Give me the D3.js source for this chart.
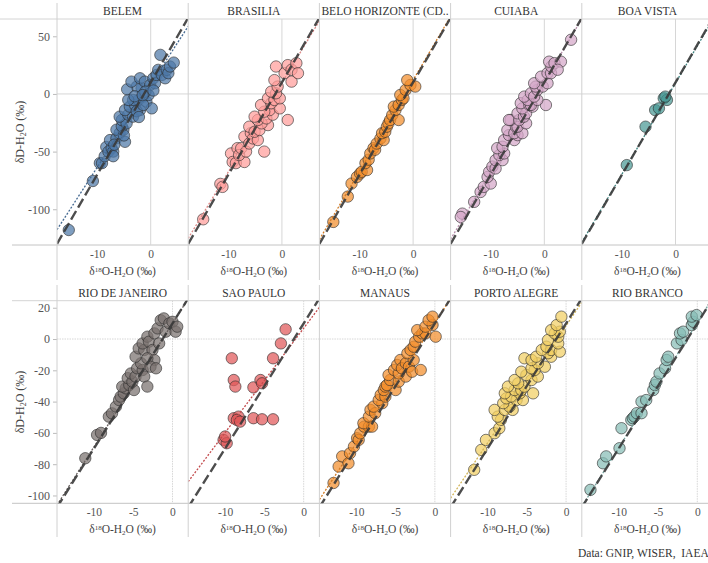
<!DOCTYPE html>
<html>
<head>
<meta charset="utf-8">
<script src="https://cdn.jsdelivr.net/npm/d3@7/dist/d3.min.js"></script>
<style>
  body { margin: 0; background: #fff; }
  svg { display: block; font-family: "Liberation Serif", "Times New Roman", serif; }
</style>
</head>
<body>
<div id="chart"></div>
<script>
// station names per row
const stationsTop = ["BELEM", "BRASILIA", "BELO HORIZONTE (CD..", "CUIABA", "BOA VISTA"];
const stationsBottom = ["RIO DE JANEIRO", "SAO PAULO", "MANAUS", "PORTO ALEGRE", "RIO BRANCO"];

// [d18O, dD]
const belem = [[-15.3,-118],[-10.8,-75.5],[-9.5,-60],[-9.1,-60],[-8.6,-54],[-8.3,-46],[-7.9,-50],[-7.3,-47],[-7,-50],[-7,-54],[-7.6,-40],[-6.4,-38.5],[-5.8,-34],[-4.8,-41.5],[-5.1,-31],[-6.4,-31],[-5.4,-28],[-5.4,-22.6],[-4.5,-25.5],[-5.8,-19.7],[-4.2,-18],[-3.3,-19.7],[-4.8,-14],[-3.9,-11],[-2.9,-9.6],[-2,-14],[-2.6,-15],[-2.3,-5.2],[-3.3,-5.2],[-4.2,-5.2],[-1.4,-2.3],[-0.8,-6.7],[0.2,-12.5],[-1.4,-9.6],[-0.4,-0.9],[-1.7,5],[-2.6,6.4],[-4.4,4],[-3.6,10.7],[-2,13.6],[-1.1,10.7],[-0.1,7.8],[0.5,13.6],[0.8,9.3],[1.1,16.5],[1.4,20.9],[2.1,16.5],[2.7,13.6],[3,20.9],[3.3,18],[3.6,23.8],[4.3,27.2],[1.8,33.9],[-3,-2],[-1,2],[-5,-36],[-6.8,-44],[-2.2,-20],[0.5,3],[-1.5,-1]];
const brasilia = [[-14.7,-108.7],[-11.5,-78],[-11.1,-80.6],[-9.5,-51.6],[-9.2,-59],[-8.6,-60],[-7,-59],[-8.3,-47],[-8,-53],[-7.6,-47],[-6.7,-50],[-7,-37],[-6.1,-43],[-5.8,-34],[-5.4,-38.6],[-4.5,-40],[-6.1,-28.4],[-5.1,-32.8],[-4.2,-31.3],[-3.3,-50],[-2.6,-27],[-3.8,-25.5],[-4.5,-22.6],[-5.1,-19.7],[-2.9,-21.2],[-1.7,-18],[-2.3,-14],[-3.3,-15.4],[-0.4,-12.5],[-3.9,-9.6],[-2,-8],[-2.6,-3.8],[-1.4,-5.2],[-0.4,-3.8],[-1.1,0.6],[-2,2],[-0.8,6.4],[1.1,-22.6],[-1.4,12],[-1.1,23.8],[0.5,18],[1.1,25],[1.8,21],[2.7,26.7],[1.8,10.7],[3,18]];
const beloHorizonte = [[-14.9,-111],[-12.2,-89],[-11.5,-77.7],[-10.5,-72],[-9.9,-69],[-9.6,-67.5],[-8.6,-66],[-8.9,-60],[-8.3,-57],[-8,-51.6],[-7.4,-47],[-7.1,-48.4],[-6.8,-43],[-6.1,-38.6],[-5.5,-40],[-5.8,-34],[-5.2,-32.8],[-4.9,-28.4],[-4.6,-25.5],[-4.3,-22.6],[-3.9,-18.3],[-2.7,-22.6],[-3.3,-14],[-3.6,-11],[-2.7,-9.6],[-2.1,-5.2],[-1.8,-3.8],[-2.4,-0.9],[-1.4,3.5],[-0.5,7.8],[0.4,6.4],[-1.1,12]];
const cuiaba = [[-15.3,-103.8],[-15.6,-106.7],[-13.1,-93.6],[-11.9,-85],[-11.3,-80.6],[-10,-77.7],[-10.6,-72],[-10.3,-67.5],[-9.7,-63],[-9.1,-64.6],[-9.1,-57.4],[-7.8,-57.4],[-8.4,-53],[-7.5,-51.6],[-8.8,-47],[-7.8,-45.8],[-7.5,-40],[-5.6,-40],[-6.6,-35.7],[-5,-35.7],[-6.9,-31.3],[-5.6,-34],[-4.1,-34],[-5.3,-28.4],[-5,-28.4],[-3.4,-25.5],[-6.3,-22.6],[-6.6,-22.6],[-4.7,-22.6],[-5,-16.8],[-3.8,-19.7],[-3.4,-16.8],[-4.1,-12.5],[-2.2,-11],[-4.4,-8],[-2.8,-9.6],[-2.5,-9.6],[0.3,-9.6],[-3.1,-5.2],[-1.3,-5.2],[-3.75,-2.3],[-2.5,0.6],[-1.9,-2.3],[-1.3,3.5],[-1.6,6.4],[-0.3,6.4],[0.6,9.3],[-1.9,9.3],[-0.6,15],[0.6,18],[1.25,18],[1.3,23.8],[0.9,28],[1.9,26.7],[3.1,28],[2.5,21],[5,47]];
const boaVista = [[-9.1,-61.7],[-5.6,-28.4],[-3.8,-14],[-3.1,-12.5],[-2.2,-3.8],[-1.6,-5.2],[-1.9,-2.3]];
const rioDeJaneiro = [[-11.1,-76.2],[-9.6,-61.3],[-9.1,-60],[-8.1,-49.6],[-7.7,-47.5],[-7.2,-43.2],[-6.8,-39],[-6.6,-36.8],[-6.2,-34.7],[-5.95,-31.5],[-6.4,-30.4],[-5.5,-29.4],[-4.9,-32.6],[-5.7,-25],[-5.1,-27.2],[-5.3,-22],[-4.7,-24],[-4.5,-18.7],[-3.8,-19.8],[-3.6,-24],[-3.2,-30.4],[-4,-15.5],[-4.7,-11.3],[-4.3,-6],[-3.6,-7],[-3.8,-2.8],[-3.2,1.5],[-3,-1.7],[-2.55,-7],[-2.3,-13.4],[-3.2,-12.3],[-2.8,-17.7],[-2.1,-18.7],[-2.3,3.6],[-1.9,6.8],[-1.7,-2.8],[-1.5,12],[-1.1,13.2],[-0.85,4.7],[-0.4,10],[0,11],[0.4,4.7],[0.6,7.9]];
const saoPaulo = [[-10.2,-64.5],[-9.8,-66.6],[-10,-62.3],[-9.15,-12.3],[-8.9,-26.2],[-8.7,-30.4],[-8.9,-50.6],[-8.3,-49.6],[-8.5,-51.7],[-8.1,-52.8],[-6.4,-30.9],[-5.5,-26.2],[-5.3,-28.3],[-6.4,-50.6],[-5.3,-51.3],[-3.9,-51.3],[-3.9,-12.3],[-2.9,-2.8],[-2.3,6.2]];
const manaus = [[-12.9,-92],[-12.25,-81.5],[-11.8,-75],[-11,-79.4],[-10.8,-73],[-10.3,-68.7],[-9.9,-63.4],[-9.7,-64.5],[-9.5,-60.2],[-9,-56],[-8.4,-56],[-8,-56],[-9.1,-53.8],[-8.4,-49.6],[-8.2,-45.3],[-7.6,-47.4],[-7.8,-43.2],[-6.7,-41],[-7.15,-39],[-6.9,-35.7],[-6.3,-36.8],[-6.5,-32.6],[-5,-32.6],[-6.3,-30.4],[-6.1,-29.4],[-5.7,-26.2],[-4.6,-27.2],[-5.9,-23],[-3.7,-24],[-5.2,-19.8],[-4.6,-22],[-4.8,-16.6],[-4.4,-13.4],[-4.2,-18.7],[-3.7,-15.5],[-3.3,-17.7],[-2.9,-20.9],[-1.8,-19.8],[-2.7,-13.4],[-3.5,-9.1],[-3.1,-7],[-2.7,-4.9],[-2.5,-1.7],[-2,1.5],[-1.6,3.6],[-1.2,3.6],[-2.25,5.7],[-1.2,7.9],[-0.3,9],[-0.8,12],[-0.3,14.3],[0.1,1.5]];
const portoAlegre = [[-11.7,-83.6],[-10.8,-70.9],[-10.2,-64.5],[-9.1,-60.2],[-8.5,-57],[-8.3,-51.7],[-8.7,-49.6],[-9.1,-45.3],[-7.8,-45.3],[-6.8,-45.3],[-7.2,-43.2],[-8,-41],[-7.6,-37.9],[-6.3,-39],[-5.5,-39],[-7,-36.8],[-5.9,-34.7],[-7.8,-34.7],[-4.2,-34.7],[-6.55,-32.6],[-5.7,-32.6],[-7.4,-30.4],[-5.3,-30.4],[-6.1,-28.3],[-6.55,-26.2],[-4.4,-26.2],[-3.6,-24],[-5.06,-23],[-5.7,-20.9],[-4,-19.8],[-4.4,-18.7],[-2.7,-17.7],[-3.6,-15.5],[-5.3,-12.3],[-4.4,-13.4],[-3.8,-11.3],[-1.9,-11.3],[-2.3,-9.1],[-3.1,-7],[-1.9,-7],[-0.8,-8.1],[-2.5,-4.9],[-1,-2.8],[-2.3,-0.6],[-1,1.5],[-1.45,3.6],[-0.8,4.7],[-1.9,5.7],[-1.2,8.9],[-0.6,14.3]];
const rioBranco = [[-13.6,-96.4],[-12,-79.4],[-11.6,-75],[-9.9,-69.8],[-9.65,-57],[-8.4,-51.7],[-8.2,-50.6],[-8,-49.5],[-7.7,-47.4],[-7.1,-47.4],[-7.1,-40],[-6.5,-39],[-5.6,-32.6],[-5.4,-29.4],[-5.2,-27.2],[-4.8,-22],[-4.1,-18.7],[-3.9,-13.4],[-3.7,-11.3],[-2.6,-2.8],[-2,-0.6],[-2.2,3.6],[-1.8,4.7],[-0.7,8.9],[-0.5,11],[-0.7,14.3],[-0.1,15.3]];

// local meteoric water lines (slope, intercept), estimated
const lmwlSlopeTop = [7.2, 7.7, 7.9, 7.8, 7.9];
const lmwlInterceptTop = [8.3, 9.5, 12, 10.5, 9.5];
const lmwlSlopeBottom = [7.9, 6.67, 7.7, 7.5, 8.0];
const lmwlInterceptBottom = [10, 6.9, 10.5, 8.5, 10.5];

// axis ticks
const xTicksTop = [-10, 0];
const yTicksTop = [50, 0, -50, -100];
const xTicksBottom = [-10, -5, 0];
const yTicksBottom = [20, 0, -20, -40, -60, -80, -100];

const colorsTop = ["#4e79a7", "#ff9d9a", "#f28e2b", "#d4a6c8", "#499894"];
const colorsBottom = ["#79706e", "#e15759", "#f28e2b", "#f1ce63", "#86bcb6"];

const W = 708, H = 563;
const left0 = 57, panelW = 131.2;

const rows = [
  { names: stationsTop, pts: [belem, brasilia, beloHorizonte, cuiaba, boaVista],
    slope: lmwlSlopeTop, icpt: lmwlInterceptTop, colors: colorsTop,
    xDom: [-17.5, 7], yDom: [-131, 65], y0: 19, y1: 245,
    xTicks: xTicksTop, yTicks: yTicksTop, divTop: 3, divBot: 280, dotted: false },
  { names: stationsBottom, pts: [rioDeJaneiro, saoPaulo, manaus, portoAlegre, rioBranco],
    slope: lmwlSlopeBottom, icpt: lmwlInterceptBottom, colors: colorsBottom,
    xDom: [-14.7, 2], yDom: [-105, 24.5], y0: 300.7, y1: 503.3,
    xTicks: xTicksBottom, yTicks: yTicksBottom, divTop: 285, divBot: 537, dotted: true }
];

const svg = d3.select("#chart").append("svg")
  .attr("width", W).attr("height", H);

const defs = svg.append("defs");

rows.forEach((row, ri) => {
  const x = d3.scaleLinear().domain(row.xDom).range([0, panelW]);
  const y = d3.scaleLinear().domain(row.yDom).range([row.y1, row.y0]);

  // horizontal frame lines
  svg.append("line").attr("x1", ri === 0 ? 0 : 12).attr("x2", W)
    .attr("y1", row.y0).attr("y2", row.y0).attr("stroke", "#d4d4d4");
  svg.append("line").attr("x1", 12).attr("x2", W)
    .attr("y1", row.y1).attr("y2", row.y1).attr("stroke", "#c4c4c4");

  // y axis on the first panel
  const yAxis = svg.append("g")
    .attr("transform", `translate(${left0},0)`)
    .call(d3.axisLeft(y).tickValues(row.yTicks).tickSize(4).tickPadding(3).tickFormat(d => String(d)));
  yAxis.select(".domain").remove();
  yAxis.selectAll(".tick line").attr("stroke", "#bbb");
  yAxis.selectAll("text").attr("fill", "#555").style("font-size", "12px")
    .style("font-family", "'Liberation Serif', serif");

  svg.append("text")
    .attr("transform", `translate(24,${(row.y0 + row.y1) / 2}) rotate(-90)`)
    .attr("text-anchor", "middle").attr("fill", "#444").style("font-size", "12px")
    .call(t => {
      t.append("tspan").text("δD-H");
      t.append("tspan").text("2").style("font-size", "8px").attr("dy", 2);
      t.append("tspan").text("O (‰)").attr("dy", -2);
    });

  row.names.forEach((name, i) => {
    const px = left0 + i * panelW;
    const g = svg.append("g").attr("transform", `translate(${px},0)`);
    const clipId = `clip-${ri}-${i}`;
    defs.append("clipPath").attr("id", clipId)
      .append("rect").attr("x", 0).attr("y", row.y0).attr("width", panelW).attr("height", row.y1 - row.y0);

    // divider
    svg.append("line").attr("x1", px).attr("x2", px)
      .attr("y1", row.divTop).attr("y2", row.divBot).attr("stroke", "#d0d0d0");

    // zero lines
    g.append("line").attr("x1", x(0)).attr("x2", x(0)).attr("y1", row.y0).attr("y2", row.y1)
      .attr("stroke", "#d6d6d6").attr("stroke-dasharray", row.dotted ? "1.5,1" : null);
    g.append("line").attr("x1", 0).attr("x2", panelW).attr("y1", y(0)).attr("y2", y(0))
      .attr("stroke", "#d6d6d6").attr("stroke-dasharray", row.dotted ? "1.5,1" : null);

    // title
    svg.append("text").attr("x", px + panelW / 2).attr("y", row.y0 - 4)
      .attr("text-anchor", "middle").attr("fill", "#333").style("font-size", "11.5px")
      .text(name);

    const plot = g.append("g").attr("clip-path", `url(#${clipId})`);

    plot.selectAll("circle").data(row.pts[i]).join("circle")
      .attr("cx", d => x(d[0])).attr("cy", d => y(d[1])).attr("r", 5.7)
      .attr("fill", row.colors[i]).attr("fill-opacity", 0.72)
      .attr("stroke", "#2a2a2a").attr("stroke-opacity", 0.6).attr("stroke-width", 1);

    // local line (dotted, station colour)
    const lx = row.xDom;
    plot.append("line")
      .attr("x1", x(lx[0])).attr("y1", y(row.slope[i] * lx[0] + row.icpt[i]))
      .attr("x2", x(lx[1])).attr("y2", y(row.slope[i] * lx[1] + row.icpt[i]))
      .attr("stroke", d3.color(row.colors[i]).darker(0.4)).attr("stroke-width", 1.3)
      .attr("stroke-dasharray", "2,1.6");

    // global meteoric water line dD = 8 d18O + 10
    plot.append("line")
      .attr("x1", x(lx[0])).attr("y1", y(8 * lx[0] + 10))
      .attr("x2", x(lx[1])).attr("y2", y(8 * lx[1] + 10))
      .attr("stroke", "#3a3a3a").attr("stroke-width", 2.4).attr("stroke-opacity", 0.9)
      .attr("stroke-dasharray", "10,4");

    // x axis
    const xAxis = g.append("g").attr("transform", `translate(0,${row.y1})`)
      .call(d3.axisBottom(x).tickValues(row.xTicks).tickSize(0).tickPadding(5).tickFormat(d => String(d)));
    xAxis.select(".domain").remove();
    xAxis.selectAll("text").attr("fill", "#555").style("font-size", "11.5px")
      .style("font-family", "'Liberation Serif', serif");

    g.append("text").attr("x", panelW / 2).attr("y", row.y1 + 30)
      .attr("text-anchor", "middle").attr("fill", "#444").style("font-size", "11.5px")
      .call(t => {
        t.append("tspan").text("δ");
        t.append("tspan").text("18").style("font-size", "7px").attr("dy", -3.5);
        t.append("tspan").text("O-H").attr("dy", 3.5);
        t.append("tspan").text("2").style("font-size", "7px").attr("dy", 2);
        t.append("tspan").text("O (‰)").attr("dy", -2);
      });
  });

  // closing divider at the right edge
  const pr = left0 + 5 * panelW;
  svg.append("line").attr("x1", pr).attr("x2", pr)
    .attr("y1", row.divTop).attr("y2", row.divBot).attr("stroke", "#d0d0d0");
});

// source note
svg.append("text").attr("x", 578).attr("y", 557)
  .attr("fill", "#333").style("font-size", "11.5px").style("white-space", "pre")
  .text("Data: GNIP, WISER,  IAEA");
</script>
</body>
</html>
